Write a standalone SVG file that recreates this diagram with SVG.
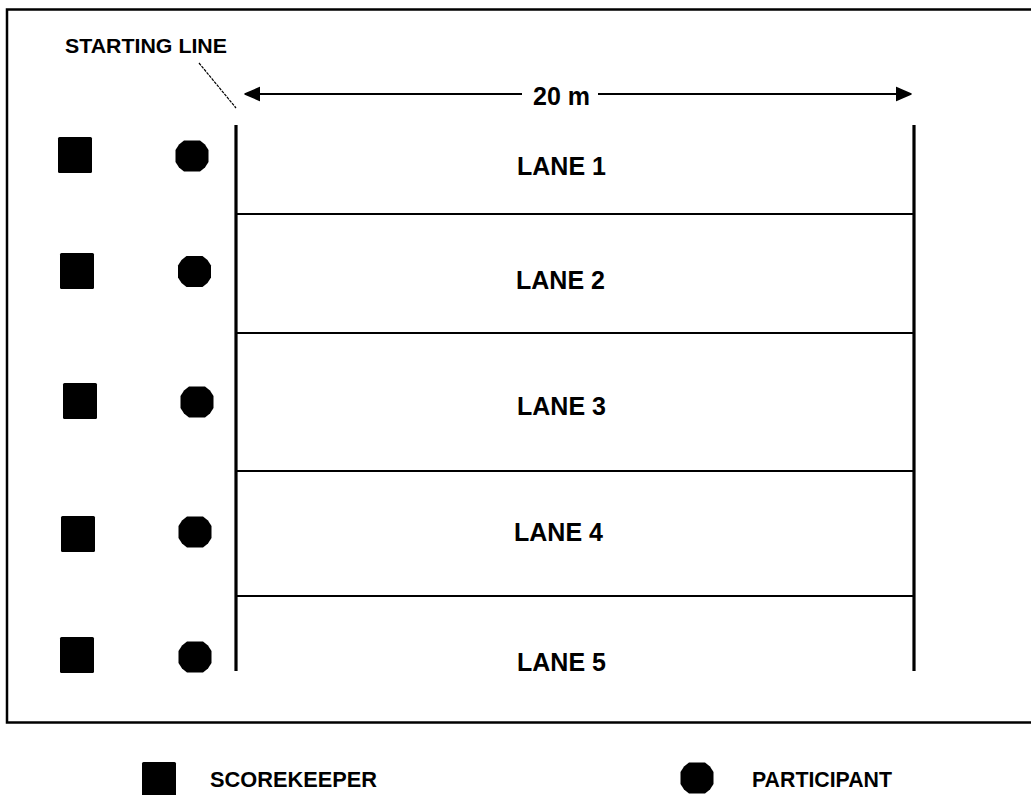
<svg xmlns="http://www.w3.org/2000/svg" width="1031" height="795" viewBox="0 0 1031 795">
<style>
.t{font-family:"Liberation Sans",Arial,sans-serif;font-weight:bold;fill:#000}
.lane{font-size:25px}
.sm{font-size:21px}
.lg{font-size:21.5px}
.post{stroke:#000;stroke-width:3.2;fill:none}
.div{stroke:#000;stroke-width:2;fill:none}
.sq{fill:#000}
</style>
<defs>
<polygon id="oct" points="-8,-15.5 8,-15.5 13,-11.5 16.5,-6 16.5,6 13,11.5 8,15.5 -8,15.5 -13,11.5 -16.5,6 -16.5,-6 -13,-11.5" fill="#000"/>
<marker id="ah" viewBox="0 0 16 16" refX="15" refY="8" markerWidth="16" markerHeight="16" markerUnits="userSpaceOnUse" orient="auto-start-reverse">
<path d="M0,1.5 L15,8 L0,14.5 Z" fill="#000" stroke="#000" stroke-width="1.5" stroke-linejoin="round"/>
</marker>
</defs>
<rect x="0" y="0" width="1031" height="795" fill="#fff"/>
<rect x="7" y="9.5" width="1040" height="713" fill="none" stroke="#000" stroke-width="2.5"/>
<g id="course">
<line class="post" x1="236" y1="125" x2="236" y2="671"/>
<line class="post" x1="914" y1="125" x2="914" y2="671"/>
<line class="div" x1="236" y1="214" x2="914" y2="214"/>
<line class="div" x1="236" y1="333" x2="914" y2="333"/>
<line class="div" x1="236" y1="471" x2="914" y2="471"/>
<line class="div" x1="236" y1="596" x2="914" y2="596"/>
</g>
<g id="connectors">
<line x1="199" y1="63" x2="236" y2="108" stroke="#000" stroke-width="1.2" stroke-dasharray="3 1"/>
<line x1="522" y1="94" x2="245" y2="94" stroke="#000" stroke-width="2" marker-end="url(#ah)"/>
<line x1="598" y1="94" x2="911" y2="94" stroke="#000" stroke-width="2" marker-end="url(#ah)"/>
</g>
<text class="t sm" x="65" y="53" textLength="162" lengthAdjust="spacingAndGlyphs">STARTING LINE</text>
<text class="t lane" x="533" y="105">20 m</text>
<g id="lane1"><text class="t lane" x="517" y="175">LANE 1</text></g>
<g id="lane2"><text class="t lane" x="516" y="289">LANE 2</text></g>
<g id="lane3"><text class="t lane" x="517" y="415">LANE 3</text></g>
<g id="lane4"><text class="t lane" x="514" y="541">LANE 4</text></g>
<g id="lane5"><text class="t lane" x="517" y="671">LANE 5</text></g>
<g id="scorekeeper1"><rect class="sq" x="58" y="137" width="34" height="36" rx="1.5"/></g>
<g id="scorekeeper2"><rect class="sq" x="60" y="253" width="34" height="36" rx="1.5"/></g>
<g id="scorekeeper3"><rect class="sq" x="63" y="383" width="34" height="36" rx="1.5"/></g>
<g id="scorekeeper4"><rect class="sq" x="61" y="516" width="34" height="36" rx="1.5"/></g>
<g id="scorekeeper5"><rect class="sq" x="60" y="637" width="34" height="36" rx="1.5"/></g>
<g id="participant1"><use href="#oct" x="192" y="156"/></g>
<g id="participant2"><use href="#oct" x="194.5" y="271.5"/></g>
<g id="participant3"><use href="#oct" x="197" y="402"/></g>
<g id="participant4"><use href="#oct" x="195" y="532"/></g>
<g id="participant5"><use href="#oct" x="195" y="657"/></g>
<g id="legend-scorekeeper">
<rect class="sq" x="142" y="762" width="34" height="36" rx="1.5"/>
<text class="t lg" x="210" y="787" textLength="167" lengthAdjust="spacingAndGlyphs">SCOREKEEPER</text>
</g>
<g id="legend-participant">
<use href="#oct" x="697" y="778"/>
<text class="t lg" x="752" y="787" textLength="140" lengthAdjust="spacingAndGlyphs">PARTICIPANT</text>
</g>
</svg>
